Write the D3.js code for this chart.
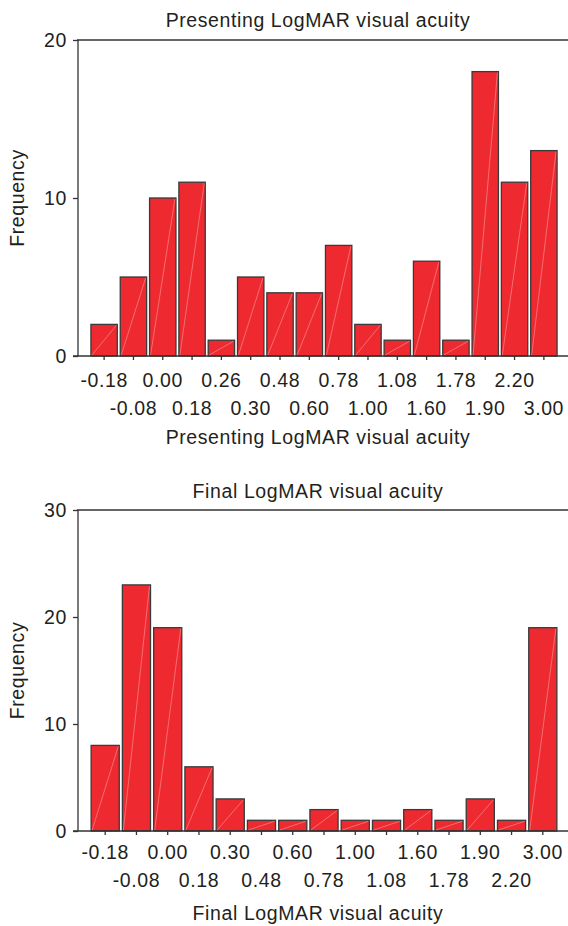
<!DOCTYPE html>
<html><head><meta charset="utf-8">
<script src="https://cdn.jsdelivr.net/npm/d3@7"></script>
<style>body{margin:0;background:#fff}svg{display:block}text{font-family:"Liberation Sans",Arial,sans-serif;fill:#231f20;letter-spacing:0.6px}</style>
</head><body>
<svg id="c" width="568" height="926"></svg>
<script>
const presCats = ["-0.18","-0.08","0.00","0.18","0.26","0.30","0.48","0.60","0.78","1.00","1.08","1.60","1.78","1.90","2.20","3.00"];
const presVals = [2,5,10,11,1,5,4,4,7,2,1,6,1,18,11,13];
const presTicks = [0,10,20];
const finalCats = ["-0.18","-0.08","0.00","0.18","0.30","0.48","0.60","0.78","1.00","1.08","1.60","1.78","1.90","2.20","3.00"];
const finalVals = [8,23,19,6,3,1,1,2,1,1,2,1,3,1,19];
const finalTicks = [0,10,20,30];

const svg = d3.select("#c");
const FS = 19.5;

function panel(o){
  const g = svg.append("g");
  const x = d3.scaleBand().domain(o.cats).range([88,560]).paddingInner(0.1).paddingOuter(0.1);
  const y = d3.scaleLinear().domain([0,o.max]).range([o.bottom,o.top]);
  g.append("text").attr("x",318).attr("y",o.titleY).attr("text-anchor","middle").attr("font-size",FS).text(o.title);
  const bars = g.selectAll("g.bar").data(o.cats.map((c,i)=>({c,v:o.vals[i]}))).enter().append("g");
  bars.append("rect").attr("x",d=>x(d.c)).attr("y",d=>y(d.v)).attr("width",x.bandwidth()).attr("height",d=>y(0)-y(d.v))
    .attr("fill","#ee2a30").attr("stroke","#3a3a3a").attr("stroke-width",1.3);
  bars.append("line").attr("x1",d=>x(d.c)+1).attr("y1",y(0)-1).attr("x2",d=>x(d.c)+x.bandwidth()-1).attr("y2",d=>y(d.v)+1)
    .attr("stroke","#fff").attr("stroke-opacity",0.45).attr("stroke-width",0.7);
  g.append("line").attr("x1",77).attr("x2",568).attr("y1",o.top).attr("y2",o.top).attr("stroke","#333").attr("stroke-width",1.3);
  g.append("line").attr("x1",78).attr("x2",78).attr("y1",o.top).attr("y2",o.bottom).attr("stroke","#333").attr("stroke-width",1.3);
  g.append("line").attr("x1",73).attr("x2",568).attr("y1",o.bottom).attr("y2",o.bottom).attr("stroke","#333").attr("stroke-width",1.3);
  const ya = d3.axisLeft(y).tickValues(o.ticks).tickSize(5).tickPadding(6).tickFormat(d3.format("d"));
  const yg = g.append("g").attr("transform","translate(78,0)").call(ya);
  yg.select(".domain").remove();
  yg.selectAll("line").attr("stroke","#333").attr("stroke-width",1.3);
  yg.selectAll("text").attr("font-size",FS).attr("font-family","Liberation Sans, Arial, sans-serif").attr("fill","#231f20");
  const xa = d3.axisBottom(x).tickSize(4).tickPadding(0).tickFormat("");
  const xg = g.append("g").attr("transform",`translate(0,${o.bottom})`).call(xa);
  xg.select(".domain").remove();
  xg.selectAll("line").attr("stroke","#333").attr("stroke-width",1.3);
  g.selectAll("text.xl").data(o.cats).enter().append("text").attr("class","xl")
    .attr("x",d=>x(d)+x.bandwidth()/2).attr("y",(d,i)=>o.bottom+(i%2===0?o.row1:o.row2))
    .attr("text-anchor","middle").attr("font-size",FS).text(d=>d);
  g.append("text").attr("x",318).attr("y",o.xTitleY).attr("text-anchor","middle").attr("font-size",FS).text(o.title);
  g.append("text").attr("transform",`translate(24,${(o.top+o.bottom)/2}) rotate(-90)`).attr("text-anchor","middle").attr("font-size",FS).text("Frequency");
}

panel({title:"Presenting LogMAR visual acuity",cats:presCats,vals:presVals,ticks:presTicks,max:20,top:40,bottom:356,titleY:27,row1:31,row2:59,xTitleY:444});
panel({title:"Final LogMAR visual acuity",cats:finalCats,vals:finalVals,ticks:finalTicks,max:30,top:510,bottom:831,titleY:498,row1:28,row2:56,xTitleY:920});
</script>
</body></html>
